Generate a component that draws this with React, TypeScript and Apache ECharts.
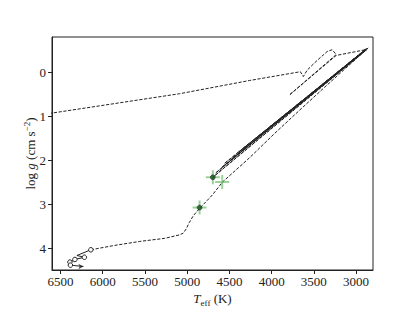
import React, { useEffect, useRef } from 'react';
import * as echarts from 'echarts';

// Evolutionary track (dashed)
const trackTeff = [
  6140, 5857, 5561, 5266, 5089, 5045, 5010, 4975, 4925, 4853, 4700, 4582, 4263, 3968, 3672, 3377, 3082, 2858,
  4696, 2869, 4664, 2893, 4593, 2881, 4560, 2875, 4475, 2886, 4400, 2890,
  3236, 3790, 3236, 3283, 3342, 3460, 3578, 3625, 3660, 4263, 5089, 6650,
];
const trackLogg = [
  4.04, 3.94, 3.85, 3.78, 3.7, 3.66, 3.56, 3.42, 3.26, 3.1, 2.79, 2.5, 1.95, 1.4, 0.87, 0.35, -0.16, -0.55,
  2.39, -0.52, 2.295, -0.5, 2.17, -0.53, 2.08, -0.54, 1.98, -0.51, 1.83, -0.51,
  -0.38, 0.52, -0.4, -0.51, -0.47, -0.27, -0.05, 0.1, -0.01, 0.19, 0.49, 0.945,
];

// Early zig-zag (solid, open circles)
const zigTeff = [6140, 6305, 6217, 6329, 6388, 6382, 6228];
const zigLogg = [4.04, 4.17, 4.21, 4.26, 4.32, 4.39, 4.42];
const zigCircle = [true, false, true, true, true, true, false];

// Observed points (green pluses)
const obsTeff = [4853, 4696, 4585];
const obsLogg = [3.08, 2.39, 2.5];

// Dark filled points
const dotTeff = [4853, 4696];
const dotLogg = [3.08, 2.39];

const xTicks = [3000, 3500, 4000, 4500, 5000, 5500, 6000, 6500];
const yTicks = [0, 1, 2, 3, 4];

const FONT = 'Liberation Serif';
const PLUS = 'path://M6,0h2v6h6v2h-6v6h-2v-6h-6v-2h6z';
const C = '#222';

export default function App() {
  const ref = useRef<HTMLDivElement>(null);
  useEffect(() => {
    document.body.style.margin = '0';
    const chart = echarts.init(ref.current!, null, { renderer: 'svg' });
    const axisCommon = {
      type: 'value',
      inverse: true,
      splitLine: { show: false },
      axisLine: { show: true, onZero: false, lineStyle: { color: C, width: 1 } },
      axisTick: { show: true, inside: false, length: 4, lineStyle: { color: C, width: 1 } },
      axisLabel: { color: C, fontFamily: FONT, fontSize: 13, formatter: (v: number) => String(v) },
      nameTextStyle: { color: C, fontFamily: FONT, fontSize: 13 },
      nameMoveOverlap: false,
    };
    const richBase = {
      i: { fontFamily: FONT, fontStyle: 'italic', fontSize: 13, color: C, lineHeight: 17, verticalAlign: 'middle' },
      n: { fontFamily: FONT, fontSize: 13, color: C, lineHeight: 17, verticalAlign: 'middle' },
    };
    chart.setOption({
      animation: false,
      backgroundColor: '#fff',
      grid: { left: 52, right: 42, top: 37, bottom: 35, show: true, borderColor: C, borderWidth: 1, backgroundColor: 'transparent' },
      xAxis: {
        ...axisCommon,
        min: 2800,
        max: 6600,
        axisTick: { ...axisCommon.axisTick, customValues: xTicks },
        axisLabel: { ...axisCommon.axisLabel, customValues: xTicks, margin: 5 },
        name: '{i|T}{sub|eff}{n| (K)}',
        nameLocation: 'middle',
        nameGap: 20,
        nameTextStyle: {
          ...axisCommon.nameTextStyle,
          rich: {
            ...richBase,
            sub: { fontFamily: FONT, fontSize: 9, color: C, lineHeight: 17, verticalAlign: 'bottom' },
          },
        },
      },
      yAxis: {
        ...axisCommon,
        min: -0.8,
        max: 4.5,
        axisTick: { ...axisCommon.axisTick, customValues: yTicks },
        axisLabel: { ...axisCommon.axisLabel, customValues: yTicks, margin: 6 },
        name: '{n|log }{i|g}{n| (cm s}{sup|−2}{n|)}',
        nameLocation: 'middle',
        nameGap: 13,
        nameRotate: 90,
        nameTextStyle: {
          ...axisCommon.nameTextStyle,
          rich: {
            ...richBase,
            sup: { fontFamily: FONT, fontSize: 9, color: C, lineHeight: 17, verticalAlign: 'top' },
          },
        },
      },
      series: [
        {
          type: 'line',
          data: trackTeff.map((t, i) => [t, trackLogg[i]]),
          showSymbol: false,
          symbol: 'none',
          lineStyle: { color: C, width: 1, type: [3.2, 1.6] },
          clip: true,
          z: 2,
        },
        {
          type: 'line',
          data: zigTeff.map((t, i) => ({
            value: [t, zigLogg[i]],
            symbol: zigCircle[i] ? 'circle' : 'none',
          })),
          symbolSize: 4.5,
          itemStyle: { color: '#fff', borderColor: C, borderWidth: 1 },
          lineStyle: { color: C, width: 1 },
          z: 3,
        },
        {
          type: 'scatter',
          data: [[zigTeff[zigTeff.length - 1], zigLogg[zigLogg.length - 1]]],
          symbol: 'arrow',
          symbolSize: [4, 5],
          symbolRotate: -90,
          itemStyle: { color: C },
          z: 3,
        },
        {
          type: 'scatter',
          data: obsTeff.map((t, i) => [t, obsLogg[i]]),
          symbol: PLUS,
          symbolSize: 14,
          itemStyle: { color: 'rgba(44,160,44,0.6)' },
          z: 4,
        },
        {
          type: 'scatter',
          data: dotTeff.map((t, i) => [t, dotLogg[i]]),
          symbol: 'circle',
          symbolSize: 5,
          itemStyle: { color: '#1d4d1d', borderColor: '#111', borderWidth: 0.5 },
          z: 5,
        },
      ],
    });
    return () => chart.dispose();
  }, []);
  return <div ref={ref} style={{ width: 415, height: 312 }} />;
}
